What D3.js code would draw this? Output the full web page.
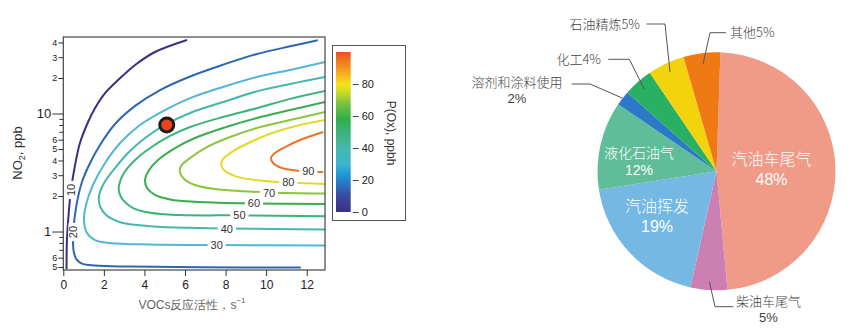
<!DOCTYPE html>
<html>
<head>
<meta charset="utf-8">
<script src="https://cdn.jsdelivr.net/npm/d3@7"></script>
<style>
body { margin: 0; background: #fff; }
svg { display: block; }
text { font-family: "Liberation Sans", Arial, sans-serif; }
.cjk { font-family: "Noto Sans CJK SC", sans-serif; font-weight: 300; }
.num { font-family: "Liberation Sans", Arial, sans-serif; font-weight: normal; }
</style>
</head>
<body>
<svg width="851" height="329"></svg>
<script>
// ---- contour plot data (x: VOCs reactivity s^-1, y: NO2 ppb)
var levels = [10, 20, 30, 40, 50, 60, 70, 80, 90];
var c10 = [[0.16,0.48],[0.18,0.85],[0.28,1.52],[0.38,2.25],[0.58,3.66],[0.82,5.62],[1.22,8.47],[1.56,11.1],[2.06,14.9],[2.70,19.2],[3.54,25.8],[4.52,33.2],[6.10,42.0]];
var c20 = [[11.71,0.495],[6.74,0.498],[3.29,0.505],[1.56,0.515],[0.92,0.535],[0.65,0.58],[0.5,0.70],[0.5,1.03],[0.65,1.68],[0.92,2.63],[1.32,3.81],[1.81,5.41],[2.55,8.15],[3.54,11.6],[4.77,15.8],[6.25,20.6],[7.87,25.9],[9.54,31.9],[11.18,37.1],[12.54,41.7]];
var c30 = [[12.9,0.761],[7.53,0.769],[4.28,0.776],[2.30,0.80],[1.56,0.847],[1.17,0.97],[1.02,1.25],[1.12,1.68],[1.46,2.48],[2.06,3.81],[2.80,5.62],[3.78,8.0],[5.01,10.7],[6.25,13.5],[7.87,16.8],[9.54,20.4],[11.18,23.4],[12.9,27.3]];
var c40 = [[12.9,1.04],[8.02,1.06],[6.74,1.07],[4.28,1.11],[2.80,1.20],[2.11,1.38],[1.81,1.64],[1.76,2.0],[2.01,2.58],[2.55,3.45],[3.19,4.63],[4.03,6.20],[5.01,8.0],[6.25,10.1],[7.87,12.5],[9.54,15.4],[11.18,17.8],[12.9,20.4]];
var c50 = [[12.9,1.35],[8.66,1.37],[5.75,1.38],[4.28,1.44],[3.44,1.58],[2.94,1.85],[2.75,2.16],[2.75,2.48],[2.99,3.13],[3.54,4.04],[4.28,5.10],[5.26,6.45],[6.25,7.69],[7.87,9.34],[9.54,11.1],[11.18,13.3],[12.9,15.5]];
var c60 = [[12.9,1.71],[9.40,1.73],[6.74,1.78],[5.26,1.87],[4.52,2.04],[4.13,2.34],[4.03,2.73],[4.23,3.32],[4.67,4.04],[5.51,5.10],[6.49,6.20],[7.87,7.54],[9.54,9.16],[11.18,10.7],[12.9,12.5]];
var c70 = [[12.9,2.10],[10.14,2.14],[7.48,2.29],[6.49,2.48],[5.95,2.79],[5.75,3.19],[5.80,3.59],[6.25,4.20],[6.99,5.10],[8.22,6.32],[9.54,7.54],[11.18,8.81],[12.9,10.3]];
var c80 = [[12.9,2.53],[11.08,2.60],[9.45,2.73],[8.47,2.95],[7.92,3.32],[7.78,3.73],[7.92,4.20],[8.47,4.91],[9.45,5.96],[10.44,6.97],[11.67,8.0],[12.9,8.81]];
var c90 = [[12.81,3.19],[11.67,3.26],[10.78,3.45],[10.34,3.81],[10.24,4.20],[10.44,4.63],[10.93,5.20],[11.67,5.96],[12.81,6.97]];
var contours = [c10, c20, c30, c40, c50, c60, c70, c80, c90];
// where each level's number sits on its line
var labelAt = [[0.40,2.25],[0.50,0.99],[7.56,0.77],[8.06,1.06],[8.68,1.38],[9.40,1.73],[10.14,2.13],[11.09,2.61],[12.08,3.27]];
var site = [5.1, 8.0];

var xTicks = [0, 2, 4, 6, 8, 10, 12];
var yMajor = [1, 10];
var yMinorLabeled = [0.5, 0.6, 2, 3, 4, 5, 6, 20, 30, 40];
var yMinorPlain = [0.7, 0.8, 0.9, 7, 8, 9];
var cbTicks = [0, 20, 40, 60, 80];
var cbStops = [[0,"#3b2f86"],[10,"#3a4a9e"],[18,"#2a78c4"],[23,"#1e96d8"],[30,"#3fb3cf"],[40,"#45b8aa"],[50,"#3bb37a"],[58,"#2faf4a"],[68,"#7cc242"],[76,"#d9de24"],[80,"#f7e21b"],[87,"#f6a91f"],[94,"#f07c22"],[100,"#e8501f"]];
var levelColors = ["#3a2f87","#2d66b3","#52b6d4","#45b8ad","#3cb47c","#38ae4c","#8cc540","#e4d92a","#ed7526"];

// ---- pie data
var sectors = ["汽油车尾气", "柴油车尾气", "汽油挥发", "液化石油气", "溶剂和涂料使用", "化工", "石油精炼", "其他"];
var shares = [48, 5, 19, 12, 2, 4, 5, 5];
var sectorColors = ["#ef9b87", "#cb7fb2", "#74b8e3", "#5fbd99", "#2b7ac7", "#2ab063", "#f3d20e", "#ef7a13"];

var svg = d3.select("svg");

// ================= contour plot =================
var plot = { left: 63.3, right: 325, top: 37, bottom: 270 };
var x = d3.scaleLinear().domain([0, 12.9]).range([plot.left, plot.right]);
var y = d3.scaleLog().domain([0.472, 44.5]).range([plot.bottom, plot.top]);

svg.append("defs").append("clipPath").attr("id", "clip")
	.append("rect")
	.attr("x", plot.left).attr("y", plot.top)
	.attr("width", plot.right - plot.left).attr("height", plot.bottom - plot.top);

var g = svg.append("g").attr("clip-path", "url(#clip)");

var line = d3.line()
	.x(function(d) { return x(d[0]); })
	.y(function(d) { return y(d[1]); })
	.curve(d3.curveCatmullRom.alpha(0.5));

contours.forEach(function(c, i) {
	g.append("path")
		.attr("d", line(c))
		.attr("fill", "none")
		.attr("stroke", levelColors[i])
		.attr("stroke-width", 2);
});

// level numbers with a white gap in the line
levels.forEach(function(lv, i) {
	var p = labelAt[i];
	var lg = g.append("g")
		.attr("transform", "translate(" + x(p[0]) + "," + y(p[1]) + ")" + (i < 2 ? " rotate(-90)" : ""));
	var t = lg.append("text")
		.attr("text-anchor", "middle")
		.attr("dy", "0.36em")
		.attr("font-size", 11)
		.attr("fill", "#333")
		.text(lv);
	var b = t.node().getBBox();
	lg.insert("rect", "text")
		.attr("x", b.x - 3).attr("y", b.y + 1)
		.attr("width", b.width + 6).attr("height", b.height - 2)
		.attr("fill", "#fff");
});

g.append("circle")
	.attr("cx", x(site[0])).attr("cy", y(site[1]))
	.attr("r", 7)
	.attr("fill", "#e8451c")
	.attr("stroke", "#1e1e1e")
	.attr("stroke-width", 3);

// frame
svg.append("rect")
	.attr("x", plot.left).attr("y", plot.top)
	.attr("width", plot.right - plot.left).attr("height", plot.bottom - plot.top)
	.attr("fill", "none").attr("stroke", "#444").attr("stroke-width", 1.2);

// x axis
svg.append("g")
	.attr("transform", "translate(0," + plot.bottom + ")")
	.call(d3.axisBottom(x).tickValues(xTicks).tickSize(6).tickPadding(4))
	.call(function(a) {
		a.select(".domain").remove();
		a.selectAll("line").attr("stroke", "#333");
		a.selectAll("text").attr("font-size", 12).attr("fill", "#222").attr("font-family", "Liberation Sans, Arial");
	});

// y axis: majors, labelled minors, plain minors
function firstDigit(d) {
	if (d < 1) return String(Math.round(d * 10));
	if (d >= 10) return String(Math.round(d / 10));
	return String(d);
}
svg.append("g")
	.attr("transform", "translate(" + plot.left + ",0)")
	.call(d3.axisLeft(y).tickValues(yMajor).tickSize(11).tickPadding(1).tickFormat(d3.format("d")))
	.call(function(a) {
		a.select(".domain").remove();
		a.selectAll("line").attr("stroke", "#333");
		a.selectAll("text").attr("font-size", 13).attr("fill", "#222").attr("font-family", "Liberation Sans, Arial");
	});
svg.append("g")
	.attr("transform", "translate(" + plot.left + ",0)")
	.call(d3.axisLeft(y).tickValues(yMinorLabeled).tickSize(5).tickPadding(1).tickFormat(firstDigit))
	.call(function(a) {
		a.select(".domain").remove();
		a.selectAll("line").attr("stroke", "#333");
		a.selectAll("text").attr("font-size", 9).attr("fill", "#222").attr("font-family", "Liberation Sans, Arial");
	});
svg.append("g")
	.attr("transform", "translate(" + plot.left + ",0)")
	.call(d3.axisLeft(y).tickValues(yMinorPlain).tickSize(4).tickFormat(""))
	.call(function(a) {
		a.select(".domain").remove();
		a.selectAll("line").attr("stroke", "#333");
	});

// axis titles
var yt = svg.append("text")
	.attr("transform", "translate(22,153) rotate(-90)")
	.attr("text-anchor", "middle")
	.attr("font-size", 13)
	.attr("fill", "#333");
yt.append("tspan").text("NO");
yt.append("tspan").attr("font-size", 9).attr("dy", 3).text("2");
yt.append("tspan").attr("dy", -3).text(", ppb");

var xt = svg.append("text")
	.attr("x", 192).attr("y", 309)
	.attr("text-anchor", "middle")
	.attr("font-size", 12)
	.attr("fill", "#666")
	.attr("font-family", "Liberation Serif, Noto Sans CJK SC");
xt.append("tspan").text("VOCs反应活性，s");
xt.append("tspan").attr("font-size", 8).attr("dy", -6).text("−1");

// ================= colour bar =================
var cb = { x: 336, w: 14.7 };
var cbY = d3.scaleLinear().domain([0, 100]).range([212, 52]);
var grad = svg.select("defs").append("linearGradient")
	.attr("id", "cbgrad")
	.attr("x1", 0).attr("y1", 1).attr("x2", 0).attr("y2", 0);
cbStops.forEach(function(s) {
	grad.append("stop").attr("offset", s[0] / 100).attr("stop-color", s[1]);
});
svg.append("rect")
	.attr("x", 332.5).attr("y", 45.5).attr("width", 73).attr("height", 175)
	.attr("fill", "#fff").attr("stroke", "#555").attr("stroke-width", 1);
svg.append("rect")
	.attr("x", cb.x).attr("y", cbY(100))
	.attr("width", cb.w).attr("height", cbY(0) - cbY(100))
	.attr("fill", "url(#cbgrad)");
svg.append("g")
	.attr("transform", "translate(" + (cb.x + cb.w + 2) + ",0)")
	.call(d3.axisRight(cbY).tickValues(cbTicks).tickSize(6).tickPadding(3))
	.call(function(a) {
		a.select(".domain").remove();
		a.selectAll("line").attr("stroke", "#444");
		a.selectAll("text").attr("font-size", 11).attr("fill", "#222").attr("font-family", "Liberation Sans, Arial");
	});
svg.append("text")
	.attr("transform", "translate(391,133) rotate(90)")
	.attr("text-anchor", "middle")
	.attr("dy", "0.35em")
	.attr("font-size", 12)
	.attr("fill", "#333")
	.text("P(Ox), ppbh");

// ================= pie =================
var R = 119;
var centre = [716.5, 171.3];
var pie = d3.pie().sort(null).value(function(d) { return d; })
	.startAngle(0.033).endAngle(0.033 + 2 * Math.PI);
var arcs = pie(shares);
var arc = d3.arc().innerRadius(0).outerRadius(R);

var pg = svg.append("g").attr("transform", "translate(" + centre[0] + "," + centre[1] + ")");
pg.selectAll("path.slice")
	.data(arcs)
	.enter()
	.append("path")
	.attr("class", "slice")
	.attr("d", arc)
	.attr("fill", function(d, i) { return sectorColors[i]; });

// label as one text element; the "%" line is set in a latin face
function labelText(parent, x0, y0, gap, lines) {
	var t = parent.append("text").attr("class", "cjk");
	lines.forEach(function(s, k) {
		t.append("tspan")
			.attr("class", k > 0 ? "num" : null)
			.attr("x", x0)
			.attr("y", y0 + k * gap)
			.attr("dy", "0.36em")
			.text(s);
	});
	return t;
}

// labels inside the slice: offset of first line from the centre, size, line gap
var inside = [
	{ i: 0, dx: 55, dy: -11.8, size: 16, gap: 19.3 },
	{ i: 2, dx: -59.5, dy: 35.2, size: 16, gap: 19.3 },
	{ i: 3, dx: -77.5, dy: -18.5, size: 14, gap: 17 }
];
inside.forEach(function(l) {
	labelText(pg, l.dx, l.dy, l.gap, [sectors[l.i], shares[l.i] + "%"])
		.attr("text-anchor", "middle")
		.attr("font-size", l.size)
		.attr("fill", "#fff");
});

// labels outside with leader lines
var outside = [
	{ i: 7, r: 0.91, elbow: [-6.5, -138.6], end: [9.5, -138.6], tx: 13.5, ty: -138.6, anchor: "start", split: false },
	{ i: 6, r: 0.92, elbow: [-51.5, -147.3], end: [-69.8, -147.3], tx: -76.5, ty: -147.3, anchor: "end", split: false },
	{ i: 5, r: 0.92, elbow: [-87.2, -112], end: [-108.2, -112], tx: -115.5, ty: -112, anchor: "end", split: false },
	{ i: 4, r: 1.0, elbow: [-126.5, -87.3], end: [-144.8, -87.3], tx: -199.5, ty: -89, anchor: "middle", split: true },
	{ i: 1, r: 0.93, elbow: [-1.5, 135.4], end: [16.8, 135.4], tx: 52, ty: 130.4, anchor: "middle", split: true }
];
outside.forEach(function(l) {
	var a = arcs[l.i];
	var mid = (a.startAngle + a.endAngle) / 2;
	var sx = R * l.r * Math.sin(mid), sy = -R * l.r * Math.cos(mid);
	pg.append("polyline")
		.attr("points", [[sx, sy], l.elbow, l.end].map(function(p) { return p.join(","); }).join(" "))
		.attr("fill", "none")
		.attr("stroke", "#555")
		.attr("stroke-width", 1);
	var lines = l.split ? [sectors[l.i], shares[l.i] + "%"] : [sectors[l.i] + shares[l.i] + "%"];
	labelText(pg, l.tx, l.ty, 16, lines)
		.attr("text-anchor", l.anchor)
		.attr("font-size", 13)
		.attr("fill", "#444");
});
</script>
</body>
</html>
